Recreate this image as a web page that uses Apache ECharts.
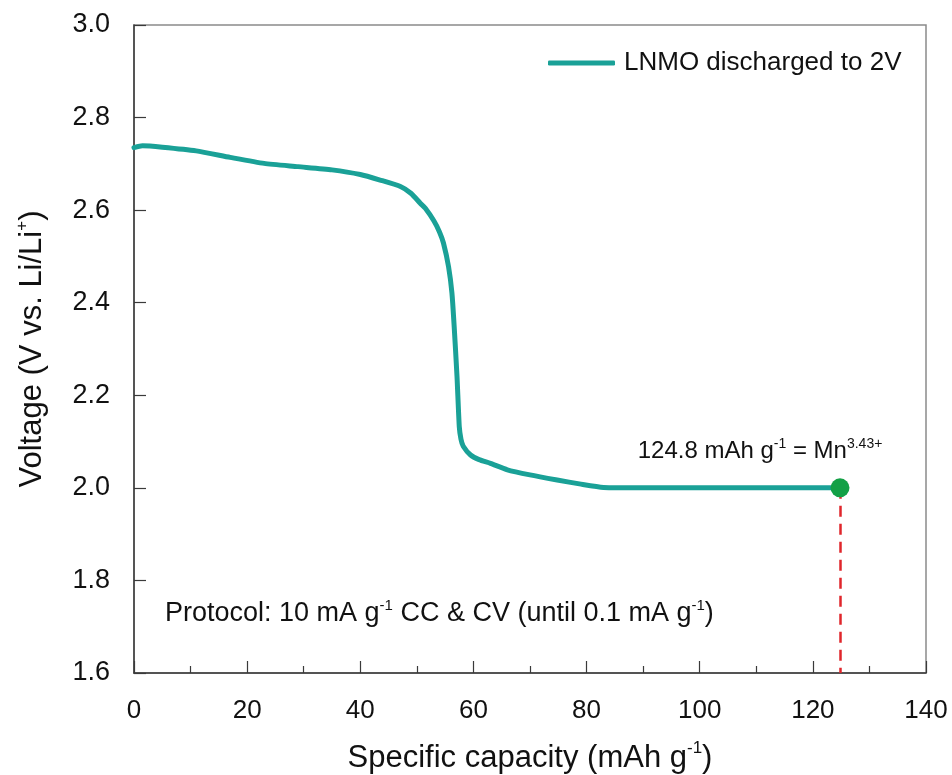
<!DOCTYPE html>
<html>
<head>
<meta charset="utf-8">
<script src="https://cdn.jsdelivr.net/npm/echarts@6/dist/echarts.min.js"></script>
<style>
  html, body { margin: 0; padding: 0; background: #fff; }
  #chart { width: 952px; height: 775px; }
</style>
</head>
<body>
<div id="chart"></div>
<script>
// Discharge curve of LNMO to 2 V: specific capacity (mAh/g) vs voltage (V)
const capacity = [0, 1.5, 5, 11, 17, 23, 29, 35, 40, 43.5, 47.1, 49, 50.6, 51.5, 53, 54, 54.7,
  55.6, 56.2, 56.6, 57.1, 57.5, 57.8, 58.2, 59.5, 61, 63, 66, 70, 74.8, 79, 83, 90, 100, 110, 120, 124.8];
const voltage = [2.735, 2.739, 2.736, 2.728, 2.714, 2.701, 2.694, 2.687, 2.677, 2.665, 2.651, 2.636,
  2.615, 2.604, 2.577, 2.553, 2.529, 2.478, 2.421, 2.348, 2.24, 2.132, 2.105, 2.09, 2.071, 2.061,
  2.053, 2.039, 2.028, 2.017, 2.008, 2.001, 2.0, 2.0, 2.0, 2.0, 2.0];

const seriesName = 'LNMO discharged to 2V';
const endPoint = [124.8, 2.0];
const xTicks = { min: 0, max: 140, interval: 20 };
const yTicks = { min: 1.6, max: 3.0, interval: 0.2 };

const font = 'Liberation Sans, Arial, sans-serif';
const axisColor = '#3a3a3a';
const ink = '#111';

const chart = echarts.init(document.getElementById('chart'), null, { renderer: 'canvas' });

chart.setOption({
  animation: false,
  backgroundColor: '#fff',
  textStyle: { fontFamily: font, color: ink },
  grid: {
    left: 134, right: 26, top: 25, bottom: 102,
    outerBoundsMode: 'none',
    show: true, borderColor: '#8a8a8a', borderWidth: 1.5
  },
  legend: {
    left: 543, top: 45,
    itemWidth: 67, itemHeight: 5, icon: 'roundRect',
    textStyle: { fontSize: 26, fontFamily: font, color: ink, padding: [0, 0, 0, 4] },
    data: [seriesName]
  },
  xAxis: {
    type: 'value',
    min: xTicks.min, max: xTicks.max, interval: xTicks.interval,
    name: '{a|Specific capacity (mAh g}{s|-1}{a|)}',
    nameLocation: 'middle', nameGap: 67,
    nameTextStyle: {
      rich: {
        a: { fontSize: 31, fontFamily: font, color: ink, lineHeight: 36 },
        s: { fontSize: 17, fontFamily: font, color: ink, lineHeight: 18, verticalAlign: 'top' }
      }
    },
    axisLine: { lineStyle: { color: axisColor, width: 1.5 } },
    axisTick: { inside: true, length: 12, lineStyle: { color: axisColor, width: 1.2 } },
    minorTick: { show: true, splitNumber: 2, length: 7, lineStyle: { color: axisColor, width: 1.2 } },
    axisLabel: { fontSize: 26, margin: 25, color: ink, fontFamily: font },
    splitLine: { show: false }
  },
  yAxis: {
    type: 'value',
    min: yTicks.min, max: yTicks.max, interval: yTicks.interval,
    name: '{a|Voltage (V vs. Li/Li}{s|+}{a|)}',
    nameLocation: 'middle', nameGap: 84,
    nameTextStyle: {
      rich: {
        a: { fontSize: 31, fontFamily: font, color: ink, lineHeight: 36 },
        s: { fontSize: 17, fontFamily: font, color: ink, lineHeight: 18, verticalAlign: 'top' }
      }
    },
    axisLine: { lineStyle: { color: axisColor, width: 1.5 } },
    axisTick: { inside: true, length: 12, lineStyle: { color: axisColor, width: 1.2 } },
    axisLabel: {
      fontSize: 27, margin: 24, color: ink, fontFamily: font,
      formatter: v => v.toFixed(1)
    },
    splitLine: { show: false }
  },
  graphic: [{
    type: 'text',
    left: 165, top: 598,
    style: {
      text: '{a|Protocol: 10 mA g}{s|-1}{a| CC & CV (until 0.1 mA g}{s|-1}{a|)}',
      rich: {
        a: { fontSize: 27, fontFamily: font, fill: ink, lineHeight: 31 },
        s: { fontSize: 15, fontFamily: font, fill: ink, lineHeight: 16, verticalAlign: 'top' }
      }
    }
  }],
  series: [
    {
      name: seriesName,
      type: 'line',
      data: capacity.map((c, i) => [c, voltage[i]]),
      smooth: 0.2,
      showSymbol: false,
      color: '#1aa197',
      lineStyle: { width: 5, color: '#1aa197', cap: 'round', join: 'round' },
      z: 3
    },
    {
      type: 'scatter',
      data: [endPoint],
      symbolSize: 19,
      itemStyle: { color: '#13a046', opacity: 1 },
      z: 5,
      label: {
        show: true,
        position: 'top',
        offset: [-80, -8],
        color: ink,
        opacity: 1,
        formatter: '{a|124.8 mAh g}{s|-1}{a| = Mn}{s|3.43+}',
        rich: {
          a: { fontSize: 24, fontFamily: font, color: ink, lineHeight: 28 },
          s: { fontSize: 14, fontFamily: font, color: ink, lineHeight: 15, verticalAlign: 'top' }
        }
      },
      markLine: {
        silent: true,
        symbol: 'none',
        label: { show: false },
        lineStyle: { color: '#e0262b', width: 2.5, type: [11, 7], opacity: 1 },
        data: [[{ coord: endPoint }, { coord: [endPoint[0], yTicks.min] }]],
        z: 2
      }
    }
  ]
});
</script>
</body>
</html>
